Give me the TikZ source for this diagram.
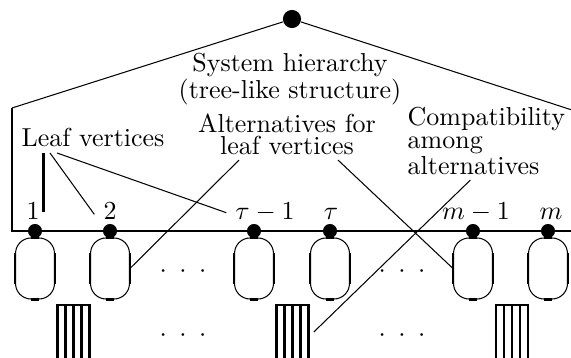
\documentclass[tikz,border=0pt]{standalone}
\usepackage{amsmath}
\usetikzlibrary{positioning,calc}

\begin{document}
\begin{tikzpicture}[x=0.385pt,y=-0.385pt,
        leaf/.style={circle,fill,inner sep=0pt,minimum size=5.4pt},
        altbox/.style={draw,rounded corners=6pt,minimum width=15pt,minimum height=23.5pt,inner sep=0pt},
        stripes/.style={inner sep=0pt,minimum width=12pt,minimum height=20.4pt,anchor=north},
        bold/.style={line width=1pt},
        num/.style={anchor=base},
        lbl/.style={inner sep=2pt,align=center}]
        \useasboundingbox (0,0) rectangle (571,358);
        % hierarchy outline
        \node[leaf,minimum size=7pt] (root) at (292,19) {};
        \coordinate (lt) at (12,108);
        \coordinate (rt) at (575,111);
        \coordinate (lb) at (12,231);
        \coordinate (rb) at (575,231);
        \draw (lt) -- (root) -- (rt);
        \draw[thick] (rb) -- (lb) -- (lt);
        % leaf vertices with their alternatives
        \foreach \x/\n in {35/1,110/2,254/t1,330/t,473/m1,548/m}{
            \node[altbox] (o\n) at (\x,268.5) {};
            \draw[bold] ([yshift=-6pt]o\n.north west) -- ([yshift=6pt]o\n.south west)
                ([yshift=-6pt]o\n.north east) -- ([yshift=6pt]o\n.south east)
                ([xshift=6pt]o\n.north west) -- ([xshift=-6pt]o\n.north east)
                ([xshift=6pt]o\n.south west) -- ([xshift=-6pt]o\n.south east);
            \node[leaf] (v\n) at (\x,231) {};
        }
        \node[num] (n1) at (33,220) {$1$};
        \node[num] (n2) at (110,220) {$2$};
        \node[num] (nt1) at (265,220) {$\tau-1$};
        \node[num] (nt) at (331,220) {$\tau$};
        \node[num] (nm1) at (476,220) {$m-1$};
        \node[num] (nm) at (551,220) {$m$};
        % compatibility blocks
        \foreach \x/\n in {73.5/1,292.5/2,512/3}{
            \node[stripes] (bx\n) at (\x,305) {};
            \draw[bold] (bx\n.south west) |- (bx\n.north east) -- (bx\n.south east);
            \foreach \f in {0.25,0.5,0.75}
                \draw[bold] ($(bx\n.north west)!\f!(bx\n.north east)$) -- ($(bx\n.south west)!\f!(bx\n.south east)$);
        }
        \foreach \x/\y/\n in {183/272/1,402/272/2,183/336/3,402/336/4}
            \node (d\n) at (\x,\y) {$\cdot$\hspace{4.8pt}$\cdot$\hspace{4.8pt}$\cdot$};
        % labels
        \node[lbl,font=\fontsize{10}{7.7}\selectfont] (sys) at (290,79) {System hierarchy\\(tree-like structure)};
        \node[lbl,anchor=base west] (lv) at (16,147) {Leaf vertices};
        \node[lbl,font=\fontsize{10}{8.4}\selectfont] (alt) at (287,134) {Alternatives for\\leaf vertices};
        \node[lbl,align=left,anchor=west,font=\fontsize{10}{8.5}\selectfont] (cmp) at (402,141) {Compatibility\\among\\alternatives};
        \draw[thick] ([xshift=-2pt]n1.east) -- ([xshift=-2pt]n1.east |- lv.south);
        \draw ($(lv.south west)+(34,0)$) -- (n2.mid west);
        \draw ($(lv.south west)+(41,0)$) -- (nt1.west);
        \draw ($(alt.south)+(-48,0)$) -- (o2.east);
        \draw ($(alt.south)+(51,0)$) -- (om1.west);
        \draw ($(cmp.south)+(-16,0)$) -- ([xshift=2pt]bx2.east);
\end{tikzpicture}
\end{document}
